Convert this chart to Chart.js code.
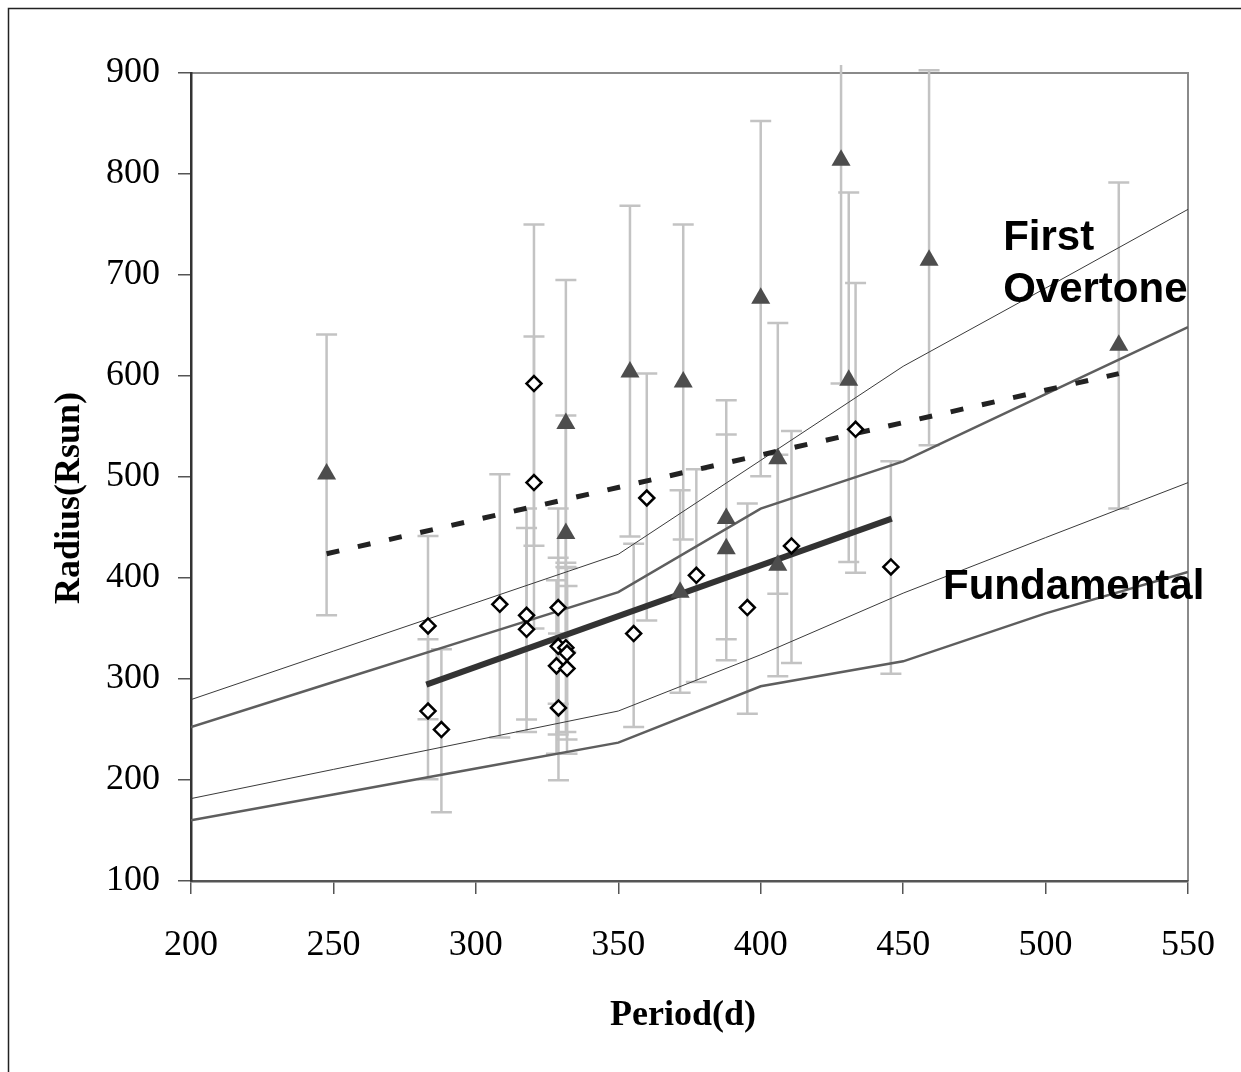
<!DOCTYPE html>
<html>
<head>
<meta charset="utf-8">
<script src="https://cdn.jsdelivr.net/npm/chart.js@4.4.0/dist/chart.umd.min.js"></script>
<style>
  html, body { margin: 0; padding: 0; background: #fff; }
  #wrap { position: relative; width: 1241px; height: 1072px; }
</style>
</head>
<body>
<div id="wrap"><canvas id="periodChart" width="1241" height="1072"></canvas></div>
<script>
// ----- Data -----
// Fundamental-mode stars (open diamonds)
const fundPeriod   = [283.2, 283.2, 287.9, 308.4, 317.8, 317.8, 320.4, 320.4, 328.9, 328.9, 331.6, 332.0, 328.3, 332.0, 329.0, 355.4, 360.0, 377.4, 395.3, 410.8, 433.3, 445.7];
const fundRadius   = [352.5, 268.3, 249.9, 374.0, 363.0, 349.2, 494.5, 592.5, 370.7, 332.4, 331.0, 325.7, 313.0, 310.3, 271.3, 345.0, 479.2, 402.7, 370.7, 431.7, 547.2, 410.9];
const fundErrHigh  = [441.6, 339.3, 329.5, 502.7, 468.7, 449.5, 639.0, 750.0, 468.7, 420.0, 415.0, 410.0, 397.7, 392.0, 345.0, 434.0, 602.4, 507.6, 473.7, 545.5, 692.0, 515.5];
const fundErrLow   = [260.1, 200.7, 168.0, 242.0, 260.0, 247.5, 350.0, 432.0, 275.6, 245.0, 247.5, 240.0, 226.0, 226.0, 199.7, 252.5, 358.0, 297.0, 265.7, 315.8, 405.3, 305.3];

// First-overtone stars (filled triangles)
const ovtPeriod    = [247.6, 331.6, 331.6, 354.1, 372.8, 371.7, 387.9, 387.9, 400.0, 406.0, 406.0, 428.2, 430.9, 459.1, 525.7];
const ovtRadius    = [503.0, 553.0, 444.0, 604.0, 594.0, 386.0, 459.0, 429.0, 677.0, 518.0, 412.6, 813.6, 595.7, 714.6, 630.4];
const ovtErrHigh   = [641.0, 695.0, 561.0, 768.5, 750.0, 486.8, 576.0, 542.0, 852.5, 652.5, 522.0, 1035.0, 781.6, 902.7, 791.5];
const ovtErrLow    = [363.0, 411.0, 327.0, 441.0, 438.0, 286.5, 339.4, 318.5, 500.7, 384.5, 302.7, 592.5, 415.8, 531.4, 468.7];

// Model relations (piecewise lines)
const modelPeriod  = [200, 250, 300, 350, 400, 450, 500, 550];
const ovtUpper     = [279.6, 327.6, 375.5, 423.5, 516.5, 609.6, 687.0, 765.0];
const ovtLower     = [252.5, 297.0, 341.5, 386.0, 468.7, 515.5, 582.0, 648.5];
const fundUpper    = [181.6, 210.5, 239.4, 268.3, 324.0, 385.0, 440.0, 494.4];
const fundLower    = [160.1, 185.7, 211.4, 237.0, 292.8, 317.5, 365.0, 406.0];

// Linear fits
const fundFitPeriod = [282.6, 446.0];
const fundFitRadius = [294.5, 458.8];
const ovtFitPeriod  = [247.6, 525.7];
const ovtFitRadius  = [424.0, 602.4];

// Axis ranges
const xMin = 200, xMax = 550, xStep = 50;
const yMin = 100, yMax = 900, yStep = 100;

// Text labels (anchored in data units)
const regionLabels = [
  { text: 'First', period: 485.1, radius: 724.5 },
  { text: 'Overtone', period: 485.1, radius: 673.0 },
  { text: 'Fundamental', period: 464.0, radius: 379.0 }
];

function toPoints(xs, ys) {
  return xs.map((v, i) => ({ x: v, y: ys[i] }));
}

// ----- Plugins -----
const errorBars = {
  id: 'errorBars',
  beforeDatasetsDraw(chart) {
    const { ctx, chartArea, scales: { x, y } } = chart;
    ctx.save();
    ctx.beginPath();
    ctx.rect(chartArea.left, chartArea.top - 8, chartArea.right - chartArea.left, chartArea.bottom - chartArea.top + 8);
    ctx.clip();
    ctx.strokeStyle = '#c3c3c3';
    ctx.lineWidth = 2.5;
    const cap = 10.5;
    const drawSet = (periods, hi, lo) => {
      periods.forEach((p, i) => {
        const px = x.getPixelForValue(p);
        const yh = y.getPixelForValue(hi[i]);
        const yl = y.getPixelForValue(lo[i]);
        ctx.beginPath();
        ctx.moveTo(px, yh); ctx.lineTo(px, yl);
        ctx.moveTo(px - cap, yh); ctx.lineTo(px + cap, yh);
        ctx.moveTo(px - cap, yl); ctx.lineTo(px + cap, yl);
        ctx.stroke();
      });
    };
    drawSet(fundPeriod, fundErrHigh, fundErrLow);
    drawSet(ovtPeriod, ovtErrHigh, ovtErrLow);
    ctx.restore();
  }
};

const frameAndText = {
  id: 'frameAndText',
  beforeDraw(chart) {
    const { ctx, chartArea } = chart;
    ctx.save();
    // outer frame (only top/left visible in the picture)
    ctx.strokeStyle = '#222';
    ctx.lineWidth = 1.5;
    ctx.beginPath();
    ctx.moveTo(8.5, 1072); ctx.lineTo(8.5, 8.5); ctx.lineTo(1241, 8.5);
    ctx.stroke();
    // plot area top/right edge
    ctx.strokeStyle = '#8a8a8a';
    ctx.lineWidth = 2;
    ctx.beginPath();
    ctx.moveTo(chartArea.left, chartArea.top);
    ctx.lineTo(chartArea.right, chartArea.top);
    ctx.lineTo(chartArea.right, chartArea.bottom);
    ctx.stroke();
    ctx.restore();
  },
  afterDraw(chart) {
    const { ctx, scales: { x, y } } = chart;
    ctx.save();
    ctx.fillStyle = '#000';
    // axis titles
    ctx.font = 'bold 36px "Liberation Serif", "Times New Roman", serif';
    ctx.textAlign = 'center';
    ctx.textBaseline = 'middle';
    ctx.fillText('Period(d)', 683, 1016);
    ctx.translate(70, 498);
    ctx.rotate(-Math.PI / 2);
    ctx.fillText('Radius(Rsun)', 0, 0);
    ctx.restore();

    ctx.save();
    ctx.fillStyle = '#000';
    ctx.font = 'bold 42px "Liberation Sans", Arial, sans-serif';
    ctx.textAlign = 'left';
    ctx.textBaseline = 'alphabetic';
    regionLabels.forEach(l => {
      ctx.fillText(l.text, x.getPixelForValue(l.period), y.getPixelForValue(l.radius));
    });
    ctx.restore();
  }
};

// ----- Chart -----
const ctx = document.getElementById('periodChart').getContext('2d');
window.periodChart = new Chart(ctx, {
  type: 'scatter',
  data: {
    datasets: [
      {
        label: 'Fundamental',
        data: toPoints(fundPeriod, fundRadius),
        pointStyle: 'rectRot',
        pointRadius: 7.5,
        backgroundColor: '#ffffff',
        borderColor: '#000000',
        borderWidth: 2.5,
        order: 0
      },
      {
        label: 'First overtone',
        data: toPoints(ovtPeriod, ovtRadius),
        pointStyle: 'triangle',
        pointRadius: 11,
        backgroundColor: '#4d4d4d',
        borderColor: '#4d4d4d',
        borderWidth: 0,
        order: 1
      },
      {
        label: 'Fundamental fit',
        data: toPoints(fundFitPeriod, fundFitRadius),
        showLine: true,
        borderColor: '#333333',
        borderWidth: 6,
        pointRadius: 0,
        order: 2
      },
      {
        label: 'Overtone fit',
        data: toPoints(ovtFitPeriod, ovtFitRadius),
        showLine: true,
        borderColor: '#222222',
        borderWidth: 5,
        borderDash: [13, 19],
        pointRadius: 0,
        order: 3
      },
      {
        label: 'Overtone upper',
        data: toPoints(modelPeriod, ovtUpper),
        showLine: true,
        borderColor: '#3a3a3a',
        borderWidth: 1,
        pointRadius: 0,
        order: 4
      },
      {
        label: 'Overtone lower',
        data: toPoints(modelPeriod, ovtLower),
        showLine: true,
        borderColor: '#5e5e5e',
        borderWidth: 2.5,
        pointRadius: 0,
        order: 5
      },
      {
        label: 'Fundamental upper',
        data: toPoints(modelPeriod, fundUpper),
        showLine: true,
        borderColor: '#3a3a3a',
        borderWidth: 1,
        pointRadius: 0,
        order: 6
      },
      {
        label: 'Fundamental lower',
        data: toPoints(modelPeriod, fundLower),
        showLine: true,
        borderColor: '#5e5e5e',
        borderWidth: 2.5,
        pointRadius: 0,
        order: 7
      }
    ]
  },
  options: {
    responsive: false,
    animation: false,
    events: [],
    layout: { padding: { top: 73, right: 53, left: 0, bottom: 0 } },
    plugins: {
      legend: { display: false },
      tooltip: { enabled: false }
    },
    scales: {
      x: {
        type: 'linear',
        min: xMin, max: xMax,
        afterFit: scale => {
          scale.height = 191;
          // the tick padding below should not eat into the plot width
          scale.paddingLeft = 0;
          scale.paddingRight = 0;
        },
        ticks: {
          stepSize: xStep,
          color: '#000',
          padding: 30,
          font: { family: '"Liberation Serif", "Times New Roman", serif', size: 36 }
        },
        grid: { drawOnChartArea: false, drawTicks: true, tickLength: 13, color: '#555', lineWidth: 1.5 },
        border: { color: '#555', width: 2.5 }
      },
      y: {
        type: 'linear',
        min: yMin, max: yMax,
        afterFit: scale => { scale.width = 191; },
        ticks: {
          stepSize: yStep,
          color: '#000',
          padding: 18,
          font: { family: '"Liberation Serif", "Times New Roman", serif', size: 36 }
        },
        grid: { drawOnChartArea: false, drawTicks: true, tickLength: 13, color: '#555', lineWidth: 1.5 },
        border: { color: '#333', width: 2.5 }
      }
    }
  },
  plugins: [errorBars, frameAndText]
});
</script>
</body>
</html>
